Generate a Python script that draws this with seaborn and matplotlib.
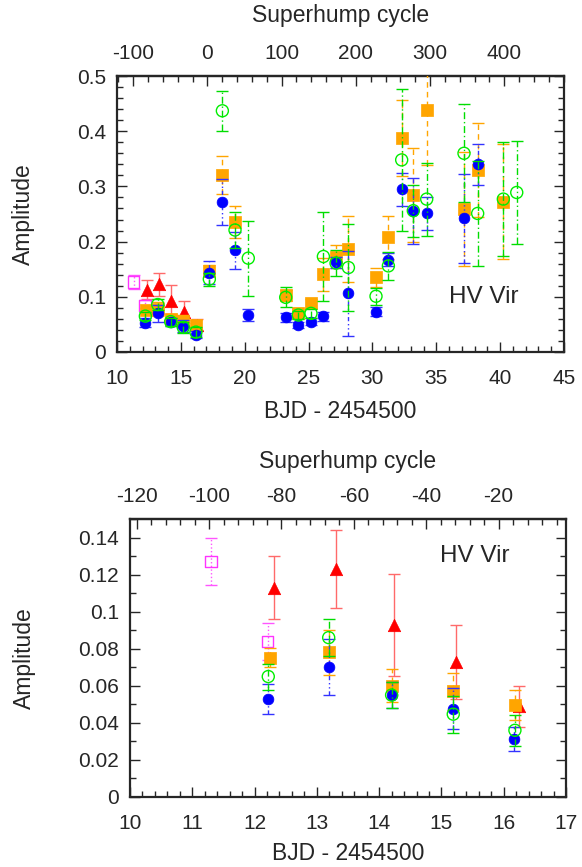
import numpy as np
import pandas as pd
import matplotlib
matplotlib.use("Agg")
import matplotlib.pyplot as plt
from matplotlib.ticker import MultipleLocator, FixedLocator
import seaborn as sns

# ---------------- data (BJD - 2454500, amplitude, error) ----------------
red_bjd = [12.31, 13.31, 14.24, 15.23, 16.24]
red_amp = [0.113, 0.123, 0.093, 0.073, 0.049]
red_err = [0.017, 0.021, 0.0275, 0.020, 0.011]

mag_bjd = [11.30, 12.21]
mag_amp = [0.127, 0.084]
mag_err = [0.0125, 0.010]

ora_bjd = [12.24, 13.20, 14.21, 15.19, 16.18, 17.23, 18.25, 19.24, 23.21, 24.20,
           25.19, 26.16, 27.15, 28.12, 30.28, 31.25, 32.29, 33.20, 34.25, 37.17,
           38.24, 40.25]
ora_amp = [0.0752, 0.078, 0.060, 0.057, 0.0495, 0.147, 0.321, 0.236, 0.103, 0.070,
           0.088, 0.141, 0.173, 0.187, 0.135, 0.208, 0.387, 0.284, 0.438, 0.259,
           0.330, 0.272]
ora_err = [0.005, 0.012, 0.009, 0.010, 0.008, 0.010, 0.034, 0.029, 0.010, 0.008,
           0.008, 0.030, 0.020, 0.060, 0.018, 0.039, 0.069, 0.085, 0.100, 0.104,
           0.085, 0.104]

blu_bjd = [12.22, 13.19, 14.20, 15.18, 16.16, 17.23, 18.25, 19.24, 20.28, 23.21,
           24.20, 25.19, 26.16, 27.15, 28.12, 30.28, 31.25, 32.29, 33.20, 34.25,
           37.17, 38.24]
blu_amp = [0.053, 0.070, 0.055, 0.0476, 0.0314, 0.144, 0.272, 0.184, 0.067, 0.063,
           0.049, 0.055, 0.065, 0.163, 0.106, 0.073, 0.167, 0.295, 0.256, 0.251,
           0.242, 0.340]
blu_err = [0.008, 0.015, 0.007, 0.011, 0.0065, 0.021, 0.042, 0.034, 0.010, 0.008,
           0.006, 0.006, 0.008, 0.010, 0.077, 0.008, 0.012, 0.030, 0.060, 0.030,
           0.080, 0.037]

grn_bjd = [12.22, 13.19, 14.20, 15.19, 16.18, 17.23, 18.25, 19.24, 20.28, 23.21,
           24.20, 25.19, 26.16, 27.15, 28.12, 30.28, 31.25, 32.29, 33.20, 34.25,
           37.17, 38.24, 40.25, 41.30]
grn_amp = [0.065, 0.086, 0.055, 0.0447, 0.036, 0.132, 0.437, 0.221, 0.170, 0.099,
           0.067, 0.070, 0.173, 0.161, 0.153, 0.101, 0.156, 0.348, 0.256, 0.277,
           0.360, 0.251, 0.277, 0.289]
grn_err = [0.007, 0.010, 0.007, 0.010, 0.0085, 0.012, 0.036, 0.033, 0.068, 0.018,
           0.008, 0.008, 0.081, 0.024, 0.078, 0.015, 0.026, 0.129, 0.047, 0.066,
           0.089, 0.095, 0.103, 0.094]

top_cycle_ticks = [-100, 0, 100, 200, 300, 400]
bottom_cycle_ticks = [-120, -100, -80, -60, -40, -20]

EPOCH = 17.08     # BJD - 2454500 of superhump cycle 0
PERIOD = 0.0581   # days

tick_font = 15
label_font = 16.5
sns.set_style("ticks")
plt.rcParams['font.family'] = ['Liberation Sans', 'DejaVu Sans']
plt.rcParams['axes.unicode_minus'] = False

series = [
    # x, y, err, marker, color, ecolor, filled, linestyle, size
    (red_bjd, red_amp, red_err, '^', '#ff0000', '#ff6a6a', True, '-', 80),
    (mag_bjd, mag_amp, mag_err, 's', '#ff33ff', '#ff55ff', False, ':', 70),
    (ora_bjd, ora_amp, ora_err, 's', '#ffa500', '#ffa500', True, (0, (4, 3)), 80),
    (blu_bjd, blu_amp, blu_err, 'o', '#0000ff', '#3333ff', True, (0, (3, 2, 1, 2, 1, 2)), 60),
    (grn_bjd, grn_amp, grn_err, 'o', '#00ee00', '#00dd00', False, (0, (5, 2, 1, 2)), 75),
]


def to_cycle(x):
    return (np.asarray(x) - EPOCH) / PERIOD


def to_bjd(c):
    return np.asarray(c) * PERIOD + EPOCH


def draw(ax, capsize):
    for i, (x, y, e, mk, col, ecol, filled, ls, s) in enumerate(series):
        z = 3 + 2 * i
        eb = ax.errorbar(x, y, yerr=e, fmt='none', ecolor=ecol, elinewidth=1.0,
                         capsize=capsize, capthick=1.0, zorder=z)
        eb[2][0].set_linestyle(ls)
        df = pd.DataFrame({'x': x, 'y': y})
        if filled:
            sns.scatterplot(data=df, x='x', y='y', marker=mk, color=col, s=s,
                            edgecolor=col, linewidth=0.5, ax=ax, zorder=z + 1,
                            legend=False)
        else:
            sns.scatterplot(data=df, x='x', y='y', marker=mk, s=s,
                            facecolors='none', edgecolor=col, linewidth=1.0,
                            ax=ax, zorder=z + 1, legend=False)


def style(ax, xmaj, xmin, ymaj, ymin, cticks, cmin, xlabpad, seclabpad):
    ax.xaxis.set_major_locator(MultipleLocator(xmaj))
    ax.xaxis.set_minor_locator(MultipleLocator(xmin))
    ax.yaxis.set_major_locator(MultipleLocator(ymaj))
    ax.yaxis.set_minor_locator(MultipleLocator(ymin))
    ax.tick_params(which='both', direction='in', top=False, right=True,
                   labelsize=tick_font, width=1.0, pad=8)
    ax.tick_params(axis='x', which='both', pad=12)
    ax.tick_params(which='major', length=7)
    ax.tick_params(which='minor', length=4)
    for sp in ax.spines.values():
        sp.set_visible(True)
        sp.set_linewidth(1.6)
    ax.set_xlabel('BJD - 2454500', fontsize=label_font, labelpad=xlabpad)
    ax.set_ylabel('Amplitude', fontsize=label_font, labelpad=30)
    sec = ax.secondary_xaxis('top', functions=(to_cycle, to_bjd))
    sec.xaxis.set_major_locator(FixedLocator(cticks))
    sec.xaxis.set_minor_locator(MultipleLocator(cmin))
    sec.tick_params(which='both', direction='in', labelsize=tick_font, width=1.0, pad=9)
    sec.tick_params(which='major', length=7)
    sec.tick_params(which='minor', length=4)
    sec.spines['top'].set_linewidth(1.6)
    sec.set_xlabel('Superhump cycle', fontsize=label_font, labelpad=seclabpad)
    return sec


fig = plt.figure(figsize=(5.82, 8.67), dpi=100)
ax1 = fig.add_axes([117 / 582, 1 - 352 / 867, (564 - 117) / 582, (352 - 76) / 867])
ax2 = fig.add_axes([130 / 582, 1 - 797 / 867, (566 - 130) / 582, (797 - 519) / 867])

draw(ax1, 4)
ax1.set_xlim(10, 45)
ax1.set_ylim(0, 0.5)
style(ax1, 5, 1, 0.1, 0.02, top_cycle_ticks, 20, 9, 16)
ax1.yaxis.set_major_formatter(plt.FuncFormatter(lambda v, p: f'{v:g}'))
ax1.text(0.82, 0.2, 'HV Vir', transform=ax1.transAxes, fontsize=17.5,
         ha='center', va='center')

draw(ax2, 4)
ax2.set_xlim(10, 17)
ax2.set_ylim(0, 0.15)
style(ax2, 1, 0.2, 0.02, 0.01, bottom_cycle_ticks, 4, 7, 14)
ax2.yaxis.set_major_formatter(plt.FuncFormatter(lambda v, p: f'{round(v, 2):g}'))
ax2.text(0.79, 0.867, 'HV Vir', transform=ax2.transAxes, fontsize=17.5,
         ha='center', va='center')

fig.savefig('out.png', dpi=100)
